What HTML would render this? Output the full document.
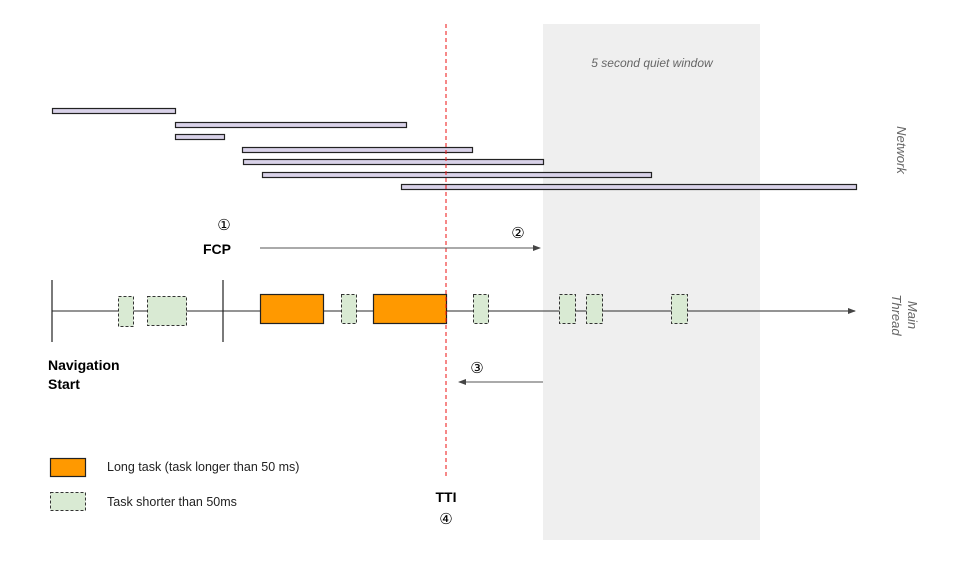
<!DOCTYPE html>
<html><head><meta charset="utf-8"><style>html,body{margin:0;padding:0;background:#fff}svg{display:block}</style></head><body>
<svg width="958" height="566" viewBox="0 0 958 566" xmlns="http://www.w3.org/2000/svg" font-family="Liberation Sans, DejaVu Sans, sans-serif">
<defs><marker id="ah" markerWidth="8" markerHeight="6" refX="7" refY="3" orient="auto" markerUnits="userSpaceOnUse"><path d="M0,0 L8,3 L0,6z" fill="#444"/></marker></defs>
<rect x="543" y="24" width="217" height="516" fill="#efefef"/>
<text x="652" y="67" font-size="12" font-style="italic" fill="#666" text-anchor="middle">5 second quiet window</text>
<g fill="#d9d2e9" stroke="#222" stroke-width="1.2">
<rect x="52.5" y="108.5" width="123" height="5"/>
<rect x="175.5" y="122.5" width="231" height="5"/>
<rect x="175.5" y="134.5" width="49" height="5"/>
<rect x="242.5" y="147.5" width="230" height="5"/>
<rect x="243.5" y="159.5" width="300" height="5"/>
<rect x="262.5" y="172.5" width="389" height="5"/>
<rect x="401.5" y="184.5" width="455" height="5"/>
</g>
<text transform="translate(897,150) rotate(90)" font-size="13" font-style="italic" fill="#666" text-anchor="middle">Network</text>
<text transform="translate(908,315) rotate(90)" font-size="13" font-style="italic" fill="#666" text-anchor="middle">Main</text>
<text transform="translate(892,315) rotate(90)" font-size="13" font-style="italic" fill="#666" text-anchor="middle">Thread</text>
<line x1="52" y1="311" x2="855" y2="311" stroke="#555" stroke-width="1.2" marker-end="url(#ah)"/>
<line x1="52" y1="280" x2="52" y2="342" stroke="#222" stroke-width="1.2"/>
<line x1="223" y1="280" x2="223" y2="342" stroke="#222" stroke-width="1.2"/>
<g fill="#d9ead3" stroke="#333" stroke-width="1" stroke-dasharray="3,2">
<rect x="118.5" y="296.5" width="15" height="30"/>
<rect x="147.5" y="296.5" width="39" height="29"/>
<rect x="341.5" y="294.5" width="15" height="29"/>
<rect x="473.5" y="294.5" width="15" height="29"/>
<rect x="559.5" y="294.5" width="16" height="29"/>
<rect x="586.5" y="294.5" width="16" height="29"/>
<rect x="671.5" y="294.5" width="16" height="29"/>
</g>
<g fill="#ff9900" stroke="#222" stroke-width="1.2">
<rect x="260.5" y="294.5" width="63" height="29"/>
<rect x="373.5" y="294.5" width="73" height="29"/>
</g>
<line x1="446" y1="24" x2="446" y2="476" stroke="#ee1111" stroke-width="1" stroke-dasharray="4,3"/>
<text x="224" y="230" font-size="15" text-anchor="middle">①</text>
<text x="217" y="254" font-size="14" font-weight="bold" text-anchor="middle">FCP</text>
<line x1="260" y1="248" x2="540" y2="248" stroke="#555" stroke-width="1" marker-end="url(#ah)"/>
<text x="518" y="238" font-size="15" text-anchor="middle">②</text>
<line x1="543" y1="382" x2="459" y2="382" stroke="#555" stroke-width="1" marker-end="url(#ah)"/>
<text x="477" y="373" font-size="15" text-anchor="middle">③</text>
<text x="48" y="370" font-size="14" font-weight="bold">Navigation</text>
<text x="48" y="389" font-size="14" font-weight="bold">Start</text>
<rect x="50.5" y="458.5" width="35" height="18" fill="#ff9900" stroke="#222" stroke-width="1.2"/>
<text x="107" y="471" font-size="12.5" fill="#222">Long task (task longer than 50 ms)</text>
<rect x="50.5" y="492.5" width="35" height="18" fill="#d9ead3" stroke="#333" stroke-dasharray="3,2"/>
<text x="107" y="506" font-size="12.5" fill="#222">Task shorter than 50ms</text>
<text x="446" y="502" font-size="14" font-weight="bold" text-anchor="middle">TTI</text>
<text x="446" y="524" font-size="15" text-anchor="middle">④</text>
</svg>
</body></html>
